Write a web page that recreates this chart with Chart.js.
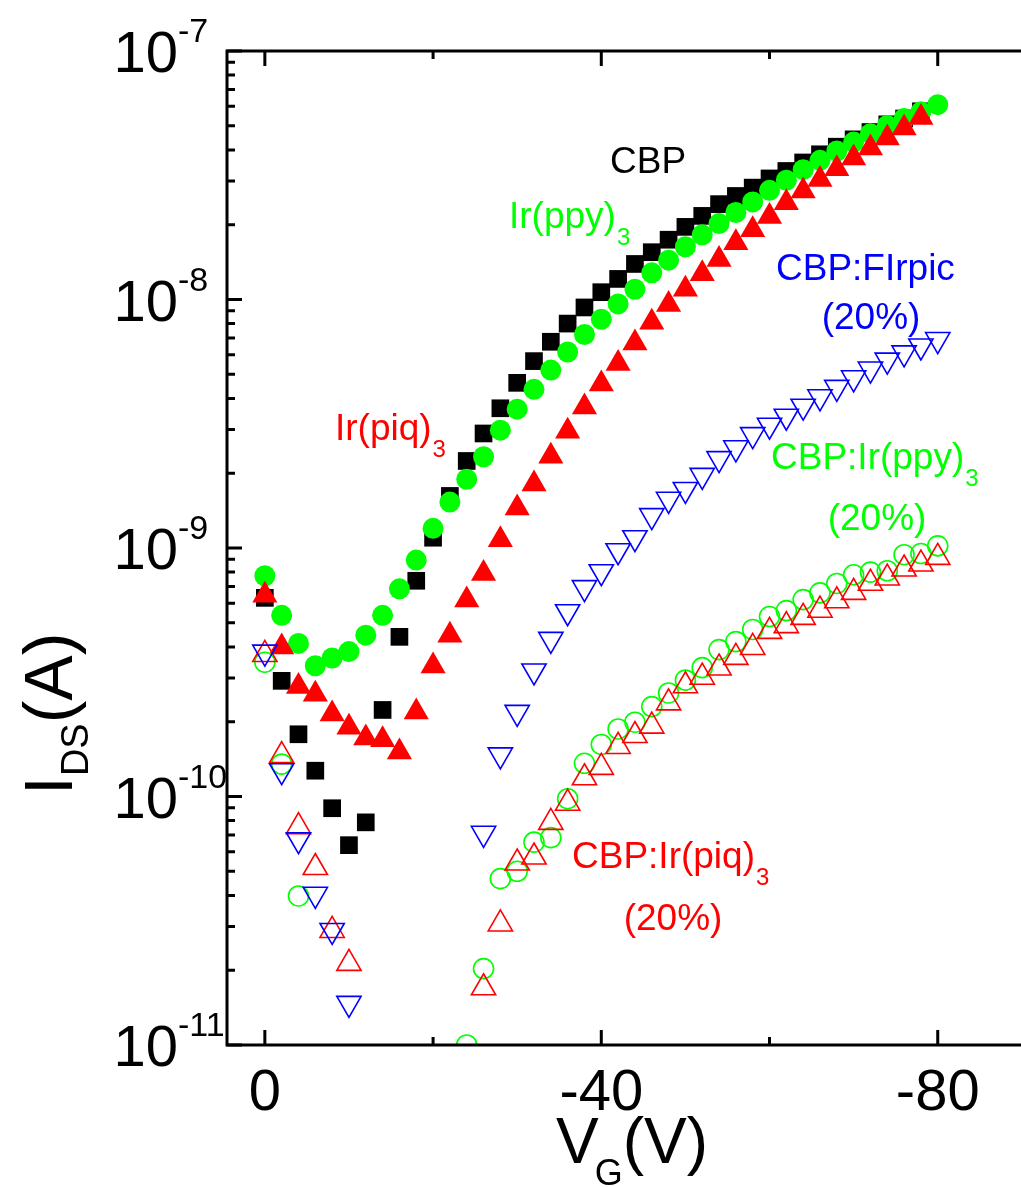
<!DOCTYPE html>
<html>
<head>
<meta charset="utf-8">
<script src="https://cdn.jsdelivr.net/npm/chart.js@4.4.1/dist/chart.umd.min.js"></script>
<style>
  html, body { margin: 0; padding: 0; background: #fff; overflow: hidden; }
  canvas { display: block; }
</style>
</head>
<body>
<canvas id="transferChart" width="1021" height="1187"></canvas>
<script>
// gate voltage steps (V)
const vg = [0, -2, -4, -6, -8, -10, -12, -14, -16, -18, -20, -22, -24, -26, -28, -30, -32, -34, -36, -38, -40,
            -42, -44, -46, -48, -50, -52, -54, -56, -58, -60, -62, -64, -66, -68, -70, -72, -74, -76, -78, -80];

// drain current (A), one value per vg step, null = not measured / off scale
const cbp = [6.3e-10, 2.92e-10, 1.78e-10, 1.27e-10, 8.97e-11, 6.37e-11, 7.87e-11, 2.23e-10, 4.39e-10, 7.38e-10, 1.1e-9,
             1.62e-9, 2.24e-9, 2.89e-9, 3.65e-9, 4.62e-9, 5.65e-9, 6.76e-9, 8.0e-9, 9.29e-9, 1.07e-8,
             1.21e-8, 1.39e-8, 1.55e-8, 1.74e-8, 1.96e-8, 2.17e-8, 2.42e-8, 2.61e-8, 2.82e-8, 3.07e-8,
             3.29e-8, 3.56e-8, 3.84e-8, 4.12e-8, 4.41e-8, 4.72e-8, 5.07e-8, 5.35e-8, 5.72e-8, null];
const irppy = [7.73e-10, 5.36e-10, 4.13e-10, 3.36e-10, 3.61e-10, 3.83e-10, 4.46e-10, 5.36e-10, 6.85e-10, 8.94e-10, 1.2e-9,
               1.53e-9, 1.89e-9, 2.33e-9, 2.98e-9, 3.62e-9, 4.35e-9, 5.2e-9, 6.15e-9, 7.23e-9, 8.33e-9,
               9.6e-9, 1.1e-8, 1.28e-8, 1.44e-8, 1.63e-8, 1.82e-8, 2.02e-8, 2.24e-8, 2.47e-8, 2.75e-8,
               3.02e-8, 3.33e-8, 3.63e-8, 3.96e-8, 4.3e-8, 4.65e-8, 5.02e-8, 5.35e-8, 5.69e-8, 6.08e-8];
const irpiq = [6.46e-10, 4.0e-10, 2.77e-10, 2.58e-10, 2.15e-10, 1.9e-10, 1.72e-10, 1.69e-10, 1.51e-10, 2.19e-10, 3.35e-10,
               4.46e-10, 6.17e-10, 7.9e-10, 1.08e-9, 1.45e-9, 1.81e-9, 2.34e-9, 2.95e-9, 3.69e-9, 4.57e-9,
               5.53e-9, 6.69e-9, 8.1e-9, 9.55e-9, 1.1e-8, 1.27e-8, 1.45e-8, 1.69e-8, 1.91e-8, 2.16e-8,
               2.45e-8, 2.73e-8, 3.04e-8, 3.36e-8, 3.71e-8, 4.07e-8, 4.47e-8, 4.9e-8, 5.4e-8, null];
const cbpFirpic = [3.81e-10, 1.27e-10, 6.7e-11, 4.04e-11, 2.89e-11, 1.47e-11, null, null, null, null, null,
                   null, null, 7.11e-11, 1.47e-10, 2.18e-10, 3.2e-10, 4.29e-10, 5.54e-10, 6.93e-10, 8.03e-10,
                   9.75e-10, 1.1e-9, 1.35e-9, 1.57e-9, 1.72e-9, 1.96e-9, 2.29e-9, 2.53e-9, 2.86e-9, 3.12e-9,
                   3.39e-9, 3.72e-9, 4.06e-9, 4.43e-9, 4.84e-9, 5.25e-9, 5.7e-9, 6.1e-9, 6.5e-9, 6.9e-9];
const cbpIrppy = [3.47e-10, 1.35e-10, 3.98e-11, null, null, null, null, null, null, null, null,
                  null, 1.0e-11, 2.03e-11, 4.67e-11, 5.0e-11, 6.55e-11, 6.83e-11, 9.8e-11, 1.36e-10, 1.62e-10,
                  1.87e-10, 1.99e-10, 2.3e-10, 2.61e-10, 2.94e-10, 3.3e-10, 3.9e-10, 4.2e-10, 4.7e-10, 5.3e-10,
                  5.6e-10, 6.2e-10, 6.6e-10, 7.2e-10, 7.8e-10, 8.0e-10, 8.1e-10, 9.4e-10, 9.5e-10, 1.02e-9];
const cbpIrpiq = [3.73e-10, 1.46e-10, 7.56e-11, 5.18e-11, 2.89e-11, 2.13e-11, null, null, null, null, null,
                  null, null, 1.7e-11, 3.07e-11, 5.4e-11, 5.71e-11, 7.87e-11, 9.4e-11, 1.19e-10, 1.31e-10,
                  1.59e-10, 1.76e-10, 1.92e-10, 2.38e-10, 2.79e-10, 3.02e-10, 3.29e-10, 3.63e-10, 3.98e-10, 4.62e-10,
                  4.87e-10, 5.26e-10, 5.62e-10, 6.13e-10, 6.63e-10, 7.21e-10, 7.57e-10, 8.23e-10, 8.62e-10, 9.17e-10];

// axis ticks
const xMajorTicks = [0, -40, -80];
const xMinorTicks = [-20, -60];
const yDecades = [-7, -8, -9, -10, -11];

const FONT = '"Liberation Sans", Arial, Helvetica, sans-serif';
const GREEN = '#00ff00';

const toPoints = (vals) => vg.map((v, i) => ({ x: v, y: vals[i] })).filter(p => p.y !== null);

// frame with inward ticks, like the original plot
const framePlugin = {
  id: 'frame',
  afterDatasetsDraw(chart) {
    const { ctx, chartArea: a, scales: { x, y } } = chart;
    ctx.save();
    ctx.strokeStyle = '#000';
    ctx.lineWidth = 3;
    ctx.lineJoin = 'miter';
    ctx.beginPath();
    ctx.moveTo(a.right + 2, a.top);
    ctx.lineTo(a.left, a.top);
    ctx.lineTo(a.left, a.bottom);
    ctx.lineTo(a.right + 2, a.bottom);
    ctx.stroke();

    ctx.beginPath();
    // left axis, log ticks
    for (let e = -11; e <= -7; e++) {
      for (let m = 1; m <= 9; m++) {
        if (e === -7 && m > 1) break;
        const py = y.getPixelForValue(m * Math.pow(10, e));
        const len = m === 1 ? 15 : 8;
        ctx.moveTo(a.left, py);
        ctx.lineTo(a.left + len, py);
      }
    }
    // bottom and top axes
    xMajorTicks.concat(xMinorTicks).forEach(v => {
      const px = x.getPixelForValue(v);
      const len = xMajorTicks.includes(v) ? 15 : 8;
      ctx.moveTo(px, a.bottom);
      ctx.lineTo(px, a.bottom - len);
      ctx.moveTo(px, a.top);
      ctx.lineTo(px, a.top + len);
    });
    ctx.stroke();
    ctx.restore();
  },
  afterDraw(chart) {
    const { ctx, scales: { x, y } } = chart;
    ctx.save();
    ctx.fillStyle = '#000';
    ctx.textBaseline = 'alphabetic';

    // y tick labels 10^n
    yDecades.forEach(e => {
      const py = y.getPixelForValue(Math.pow(10, e));
      ctx.font = '58px ' + FONT;
      ctx.textAlign = 'right';
      ctx.fillText('10', 178, py + 21);
      ctx.font = '34px ' + FONT;
      ctx.textAlign = 'left';
      ctx.fillText(String(e), 178, py - 9);
    });

    // x tick labels
    ctx.font = '58px ' + FONT;
    ctx.textAlign = 'center';
    xMajorTicks.forEach(v => {
      ctx.fillText(String(v), x.getPixelForValue(v), 1110);
    });

    // x title V_G(V)
    ctx.textAlign = 'left';
    let cx = 556;
    ctx.font = '64px ' + FONT;
    ctx.fillText('V', cx, 1163);
    cx += ctx.measureText('V').width;
    ctx.font = '36px ' + FONT;
    ctx.fillText('G', cx - 4, 1185);
    cx += ctx.measureText('G').width - 4;
    ctx.font = '64px ' + FONT;
    ctx.fillText('(V)', cx, 1163);

    // y title I_DS(A), rotated
    ctx.save();
    ctx.translate(72, 795);
    ctx.rotate(-Math.PI / 2);
    let tx = 0;
    ctx.font = '68px ' + FONT;
    ctx.fillText('I', tx, 0);
    tx += ctx.measureText('I').width;
    ctx.font = '38px ' + FONT;
    ctx.fillText('DS', tx, 16);
    tx += ctx.measureText('DS').width;
    ctx.font = '68px ' + FONT;
    ctx.fillText('(A)', tx, 0);
    ctx.restore();

    // series labels
    const label = (text, sub, px, py, color) => {
      ctx.fillStyle = color;
      ctx.textAlign = 'left';
      ctx.font = '37px ' + FONT;
      ctx.fillText(text, px, py);
      if (sub) {
        const w = ctx.measureText(text).width;
        ctx.font = '24px ' + FONT;
        ctx.fillText(sub, px + w + 1, py + 17);
      }
    };
    const centered = (text, px, py, color) => {
      ctx.fillStyle = color;
      ctx.textAlign = 'center';
      ctx.font = '37px ' + FONT;
      ctx.fillText(text, px, py);
    };
    label('CBP', '', 610, 173, '#000');
    label('Ir(ppy)', '3', 509, 228, GREEN);
    label('CBP:FIrpic', '', 776, 280, '#0000ff');
    centered('(20%)', 871, 329, '#0000ff');
    label('Ir(piq)', '3', 335, 440, '#ff0000');
    label('CBP:Ir(ppy)', '3', 771, 469, GREEN);
    centered('(20%)', 877, 530, GREEN);
    label('CBP:Ir(piq)', '3', 572, 868, '#ff0000');
    centered('(20%)', 673, 930, '#ff0000');
    ctx.restore();
  }
};

const filled = (pts, style, color, r, order) => ({
  data: pts, pointStyle: style, pointRadius: r, pointBackgroundColor: color,
  pointBorderColor: color, pointBorderWidth: 0, showLine: false, clip: 0, order: order
});
const open = (pts, style, color, r, order, rot) => ({
  data: pts, pointStyle: style, pointRadius: r, pointBackgroundColor: 'rgba(0,0,0,0)',
  pointBorderColor: color, pointBorderWidth: 1.6, pointRotation: rot || 0,
  showLine: false, clip: 0, order: order
});

new Chart(document.getElementById('transferChart').getContext('2d'), {
  type: 'scatter',
  data: {
    datasets: [
      Object.assign(filled(toPoints(cbp), 'rect', '#000000', 12.5, 5), { label: 'CBP' }),
      Object.assign(filled(toPoints(irppy), 'circle', GREEN, 10.5, 4), { label: 'Ir(ppy)3' }),
      Object.assign(filled(toPoints(irpiq), 'triangle', '#ff0000', 14.5, 3), { label: 'Ir(piq)3' }),
      Object.assign(open(toPoints(cbpFirpic), 'triangle', '#0000ff', 14, 0, 180), { label: 'CBP:FIrpic (20%)' }),
      Object.assign(open(toPoints(cbpIrppy), 'circle', GREEN, 10, 2), { label: 'CBP:Ir(ppy)3 (20%)' }),
      Object.assign(open(toPoints(cbpIrpiq), 'triangle', '#ff0000', 14, 1), { label: 'CBP:Ir(piq)3 (20%)' })
    ]
  },
  options: {
    responsive: false,
    animation: false,
    devicePixelRatio: 1,
    layout: { autoPadding: false, padding: { left: 227, top: 51, right: 0, bottom: 142 } },
    plugins: { legend: { display: false }, tooltip: { enabled: false } },
    elements: { point: { hoverRadius: 0 } },
    scales: {
      x: { type: 'linear', min: -89.9, max: 4.5, reverse: true, display: false },
      y: { type: 'logarithmic', min: 1e-11, max: 1e-7, display: false }
    }
  },
  plugins: [framePlugin]
});
</script>
</body>
</html>
